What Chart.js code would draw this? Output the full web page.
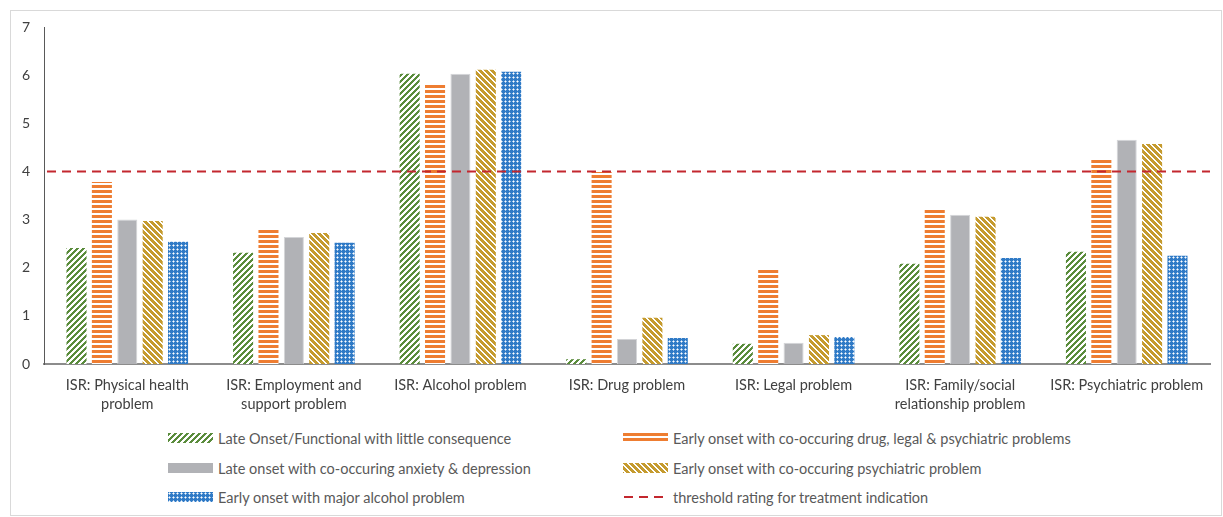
<!DOCTYPE html>
<html>
<head>
<meta charset="utf-8">
<script src="https://cdn.jsdelivr.net/npm/chart.js@4.4.1/dist/chart.umd.min.js"></script>
<style>
  body { margin: 0; background: #fff; font-family: Lato, "Open Sans", sans-serif; }
  #frame { position: absolute; left: 10px; top: 10px; width: 1212px; height: 506px; border: 1px solid #d9d9d9; box-sizing: border-box; }
  #wrap { position: absolute; left: 0; top: 0; width: 1223px; height: 420px; }
  .item { position: absolute; height: 20px; display: flex; align-items: center; font-size: 14.5px; color: #595959; white-space: nowrap; }
  .item canvas { margin-right: 5px; }
</style>
</head>
<body>
<div id="frame"></div>
<div id="wrap"><canvas id="chart"></canvas></div>
<div id="legend"></div>
<script>
const categories = [
    ["ISR: Physical health", "problem"],
    ["ISR: Employment and", "support problem"],
    "ISR: Alcohol problem",
    "ISR: Drug problem",
    "ISR: Legal problem",
    ["ISR: Family/social", "relationship problem"],
    "ISR: Psychiatric problem"
];
const seriesNames = [
    "Late Onset/Functional with little consequence",
    "Early onset with co-occuring drug, legal & psychiatric problems",
    "Late onset with co-occuring anxiety & depression",
    "Early onset with co-occuring psychiatric problem",
    "Early onset with major alcohol problem"
];
const thresholdName = "threshold rating for treatment indication";

const lateOnsetFunctional = [2.41, 2.31, 6.03, 0.10, 0.42, 2.08, 2.33];
const earlyOnsetDrugLegalPsych = [3.78, 2.79, 5.80, 3.99, 1.95, 3.20, 4.24];
const lateOnsetAnxietyDepression = [3.00, 2.64, 6.03, 0.52, 0.44, 3.10, 4.66];
const earlyOnsetPsychiatric = [2.97, 2.72, 6.11, 0.96, 0.60, 3.06, 4.57];
const earlyOnsetAlcohol = [2.54, 2.52, 6.07, 0.54, 0.56, 2.20, 2.25];
const thresholdRating = 4;
const yTicks = [0, 1, 2, 3, 4, 5, 6, 7];

// little pixel tiles used as Excel-like pattern fills
function makeTile(w, h, paint) {
    const c = document.createElement("canvas");
    c.width = w; c.height = h;
    const g = c.getContext("2d");
    g.fillStyle = "#fff";
    g.fillRect(0, 0, w, h);
    for (let x = 0; x < w; x++) {
        for (let y = 0; y < h; y++) {
            const col = paint(x, y);
            if (col) { g.fillStyle = col; g.fillRect(x, y, 1, 1); }
        }
    }
    return c;
}
const tiles = [
    makeTile(6, 6, (x, y) => ((x + y) % 6) < 3 ? "#5A8C3C" : null),
    makeTile(1, 5, (x, y) => y < 3 ? "#EE7D31" : null),
    makeTile(1, 1, () => "#B1B2B6"),
    makeTile(6, 6, (x, y) => ((x - y + 60) % 6) < 4 ? "#C59B2F" : null),
    makeTile(4, 4, (x, y) => {
        if (x === 1 && y === 1) return null;
        if ((x === 1 && (y === 0 || y === 2)) || (y === 1 && (x === 0 || x === 2))) return "#A5C6E8";
        return "#2F7AC6";
    })
];

const ctx = document.getElementById("chart").getContext("2d");
const patterns = tiles.map(t => ctx.createPattern(t, "repeat"));
const seriesValues = [lateOnsetFunctional, earlyOnsetDrugLegalPsych, lateOnsetAnxietyDepression, earlyOnsetPsychiatric, earlyOnsetAlcohol];

const thresholdLine = {
    id: "thresholdLine",
    afterDatasetsDraw(chart) {
        const {ctx, chartArea, scales} = chart;
        const y = scales.y.getPixelForValue(thresholdRating);
        ctx.save();
        ctx.strokeStyle = "#C3272E";
        ctx.lineWidth = 2;
        ctx.setLineDash([9, 6]);
        ctx.beginPath();
        ctx.moveTo(chartArea.left + 3, y);
        ctx.lineTo(chartArea.right, y);
        ctx.stroke();
        ctx.restore();
    }
};

const tickFont = {family: "Lato, 'Open Sans', sans-serif", size: 14.5, lineHeight: 1.3};

new Chart(ctx, {
    type: "bar",
    data: {
        labels: categories,
        datasets: seriesValues.map((vals, i) => ({
            label: seriesNames[i],
            data: vals,
            backgroundColor: patterns[i],
            borderColor: i === 2 ? "#D4D5D8" : "rgba(0,0,0,0)",
            borderWidth: i === 2 ? 1 : 0,
            barPercentage: 0.79,
            categoryPercentage: 0.762,
        })),
    },
    options: {
        responsive: true,
        maintainAspectRatio: false,
        animation: false,
        layout: {padding: {top: 27, left: 10, right: 13, bottom: 0}},
        plugins: {
            legend: {display: false},
            tooltip: {enabled: false},
        },
        scales: {
            x: {
                grid: {display: false, drawTicks: false},
                border: {display: true, color: "#8C8C8C", width: 2},
                ticks: {font: tickFont, color: "#404040", padding: 12, maxRotation: 0, autoSkip: false},
                afterFit: s => { s.height = 56; },
            },
            y: {
                min: 0,
                max: 7,
                grid: {display: false, drawTicks: false},
                border: {display: true, color: "#595959", width: 1},
                ticks: {font: {family: tickFont.family, size: 14}, color: "#404040", padding: 14},
                afterBuildTicks: s => { s.ticks = yTicks.map(v => ({value: v})); },
                afterFit: s => { s.width = 34; },
            },
        },
    },
    plugins: [thresholdLine],
});

// two-column legend below the plot
const legendItems = [
    {name: seriesNames[0], tile: 0, left: 168, top: 428},
    {name: seriesNames[1], tile: 1, left: 623, top: 428},
    {name: seriesNames[2], tile: 2, left: 168, top: 458},
    {name: seriesNames[3], tile: 3, left: 623, top: 458},
    {name: seriesNames[4], tile: 4, left: 168, top: 487},
    {name: thresholdName, tile: null, left: 623, top: 487},
];
const legendEl = document.getElementById("legend");
legendItems.forEach(it => {
    const div = document.createElement("div");
    div.className = "item";
    div.style.left = it.left + "px";
    div.style.top = it.top + "px";
    const sw = document.createElement("canvas");
    sw.width = 45; sw.height = 10;
    const g = sw.getContext("2d");
    if (it.tile !== null) {
        g.fillStyle = g.createPattern(tiles[it.tile], "repeat");
        g.fillRect(0, 0, 45, 10);
    } else {
        g.strokeStyle = "#C3272E";
        g.lineWidth = 2;
        g.setLineDash([9, 6]);
        g.beginPath(); g.moveTo(1, 5); g.lineTo(45, 5); g.stroke();
    }
    div.appendChild(sw);
    const span = document.createElement("span");
    span.textContent = it.name;
    div.appendChild(span);
    legendEl.appendChild(div);
});
</script>
</body>
</html>
